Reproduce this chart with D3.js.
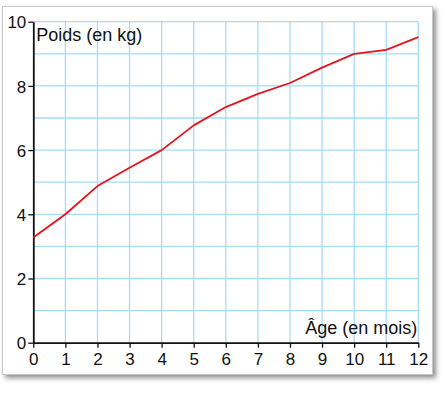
<!DOCTYPE html>
<html>
<head>
<meta charset="utf-8">
<script src="https://cdn.jsdelivr.net/npm/d3@7"></script>
<style>
  body { margin: 0; background: #fff; }
  svg { display: block; font-family: "Liberation Sans", Arial, Helvetica, sans-serif; }
</style>
</head>
<body>
<svg id="chart" width="445" height="393"></svg>
<script>
// data
const ages = [0, 1, 2, 3, 4, 5, 6, 7, 8, 9, 10, 11, 12]
const poids = [3.28, 4.0, 4.88, 5.45, 6.0, 6.77, 7.34, 7.75, 8.09, 8.57, 9.0, 9.12, 9.52]
const yTicks = [0, 2, 4, 6, 8, 10]
const xLabel = "Âge (en mois)"
const yLabel = "Poids (en kg)"

const svg = d3.select('#chart')

// carte avec ombre
const defs = svg.append('defs')
const f = defs.append('filter').attr('id', 'shadow')
    .attr('x', '-5%').attr('y', '-5%').attr('width', '115%').attr('height', '115%')
f.append('feDropShadow').attr('dx', 3).attr('dy', 3).attr('stdDeviation', 2.5)
    .attr('flood-color', '#000').attr('flood-opacity', 0.45)

svg.append('rect')
    .attr('x', 2.5).attr('y', 6.5).attr('width', 430).attr('height', 368)
    .attr('fill', '#fff').attr('stroke', '#c8c8c8').attr('stroke-width', 1)
    .attr('filter', 'url(#shadow)')

const x = d3.scaleLinear().domain([0, 12]).range([33.3, 418.3])
const y = d3.scaleLinear().domain([0, 10]).range([342.7, 21.7])

const g = svg.append('g')

// quadrillage
g.selectAll('.vgrid')
    .data(d3.range(1, 13))
    .join('line')
    .attr('x1', d => x(d)).attr('x2', d => x(d))
    .attr('y1', y(0)).attr('y2', y(10))
    .attr('stroke', '#a6dcf6').attr('stroke-width', 1.3)
g.selectAll('.hgrid')
    .data(d3.range(1, 11))
    .join('line')
    .attr('x1', x(0)).attr('x2', x(12))
    .attr('y1', d => y(d)).attr('y2', d => y(d))
    .attr('stroke', '#a6dcf6').attr('stroke-width', 1.3)

// axes
const xAxis = d3.axisBottom(x).tickValues(ages).tickSize(5).tickPadding(5).tickSizeOuter(0)
const yAxis = d3.axisLeft(y).tickValues(yTicks).tickSize(5).tickPadding(2).tickSizeOuter(0)

const gx = g.append('g').attr('transform', `translate(0,${y(0)})`).call(xAxis)
const gy = g.append('g').attr('transform', `translate(${x(0)},0)`).call(yAxis)

;[gx, gy].forEach(a => {
    a.select('.domain').attr('stroke', '#111').attr('stroke-width', 1.8)
    a.selectAll('.tick line').attr('stroke', '#111').attr('stroke-width', 1.3)
    a.selectAll('.tick text')
        .attr('fill', '#111')
        .attr('font-size', 17)
        .attr('font-family', '"Liberation Sans", Arial, sans-serif')
})
gy.selectAll('.tick text').attr('dy', '0.36em')

// courbe
const line = d3.line()
    .x((d, i) => x(ages[i]))
    .y(d => y(d))
g.append('path')
    .datum(poids)
    .attr('d', line)
    .attr('fill', 'none')
    .attr('stroke', '#e3141c')
    .attr('stroke-width', 1.8)
    .attr('stroke-linejoin', 'round')

// titres des axes
g.append('text')
    .attr('x', x(0) + 3).attr('y', 41)
    .attr('font-size', 18).attr('fill', '#111')
    .text(yLabel)
g.append('text')
    .attr('x', x(12) - 1).attr('y', 334)
    .attr('text-anchor', 'end')
    .attr('font-size', 18).attr('fill', '#111')
    .text(xLabel)
</script>
</body>
</html>
